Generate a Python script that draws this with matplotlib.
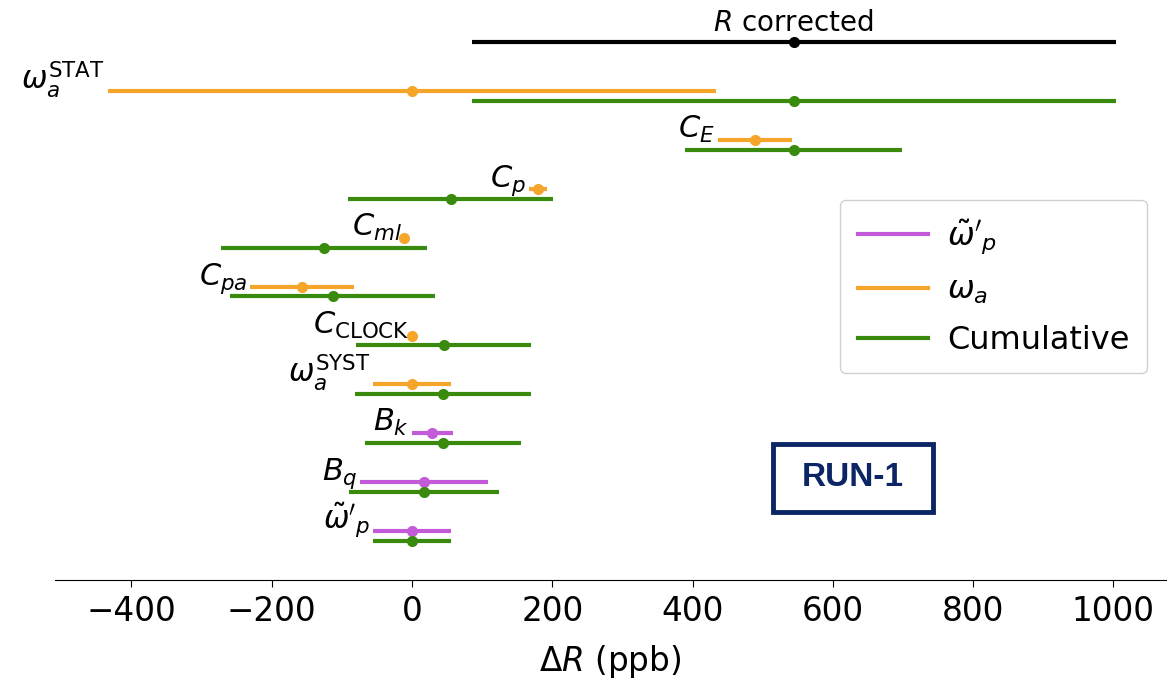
import matplotlib
matplotlib.use("Agg")
import matplotlib.pyplot as plt
from matplotlib.lines import Line2D
from matplotlib.patches import Rectangle

# ---------------- data (ppb) ----------------
labels = [r"$\tilde{\omega}'_p$", r"$B_q$", r"$B_k$", r"$\omega_a^{\mathrm{SYST}}$",
          r"$C_{\mathrm{CLOCK}}$", r"$C_{pa}$", r"$C_{ml}$", r"$C_p$", r"$C_E$",
          r"$\omega_a^{\mathrm{STAT}}$"]
kinds = ["wp", "wp", "wp", "wa", "wa", "wa", "wa", "wa", "wa", "wa"]
comp_val = [0, 17, 29, 0, 0, -157, -11, 180, 489, 0]
comp_err = [55, 91, 29, 55, 0, 74, 0, 13, 53, 434]
cum_val = [0, 17, 44, 44, 45, -113, -125, 55, 544, 544]
cum_err = [55, 107, 111, 125, 125, 146, 147, 146, 155, 459]
r_val = 544
r_err = 459
r_label = r"$R$ corrected"
legend_labels = [r"$\tilde{\omega}'_p$", r"$\omega_a$", "Cumulative"]
xticks = [-400, -200, 0, 200, 400, 600, 800, 1000]

colors = {"wp": "#c35bd8", "wa": "#f5a52a", "cum": "#3a8a0e"}

W, H = 1171, 681
fig = plt.figure(figsize=(W / 100, H / 100), dpi=100)
ax = fig.add_axes([55 / W, (H - 580) / H, (1166 - 55) / W, (580 - 5) / H])

lw = 3.0
ms = 7
off = 0.2
for i in range(len(labels)):
    c = colors[kinds[i]]
    ax.errorbar(comp_val[i], i + off, xerr=comp_err[i], fmt="o", color=c,
                ecolor=c, elinewidth=lw, ms=ms, capsize=0, zorder=3)
    ax.errorbar(cum_val[i], i, xerr=cum_err[i], fmt="o", color=colors["cum"],
                ecolor=colors["cum"], elinewidth=lw, ms=ms, capsize=0, zorder=3)
    left = comp_val[i] - comp_err[i]
    ax.annotate(labels[i], xy=(left, i + off), xytext=(-2, 1.5),
                textcoords="offset points", ha="right", va="baseline",
                fontsize=22)

ry = len(labels) + off
ax.errorbar(r_val, ry, xerr=r_err, fmt="o", color="black", ecolor="black",
            elinewidth=lw, ms=ms, capsize=0, zorder=3)
ax.annotate(r_label, xy=(r_val, ry), xytext=(0, 4), textcoords="offset points",
            ha="center", va="bottom", fontsize=20)

ax.set_xlim(-509, 1075)
ax.set_ylim(-0.8, 10.96)
ax.set_xticks(xticks)
ax.set_xticklabels([str(t).replace("-", "\u2212") for t in xticks])
ax.tick_params(axis="x", labelsize=23.5, length=5, pad=5.5)
ax.set_yticks([])
for s in ["left", "top", "right"]:
    ax.spines[s].set_visible(False)
ax.set_xlabel(r"$\Delta R$ (ppb)", fontsize=23.5, labelpad=11)

handles = [Line2D([], [], color=colors["wp"], lw=lw),
           Line2D([], [], color=colors["wa"], lw=lw),
           Line2D([], [], color=colors["cum"], lw=lw)]
ax.legend(handles, legend_labels, loc="upper right",
          bbox_to_anchor=(0.983, 0.661), borderaxespad=0, fontsize=23,
          handlelength=2.2, handletextpad=0.6, labelspacing=0.58,
          borderpad=0.55, framealpha=1, edgecolor="#d0d0d0")

navy = "#0b2565"
fig.add_artist(Rectangle((773 / W, (H - 512) / H), 160 / W, 68 / H,
                         transform=fig.transFigure, fill=False,
                         edgecolor=navy, lw=3.5))
fig.text(853 / W, (H - 478) / H, "RUN-1", ha="center", va="center",
         fontsize=24, fontweight="bold", color=navy, family="Liberation Sans")

fig.savefig("out.png", dpi=100)
